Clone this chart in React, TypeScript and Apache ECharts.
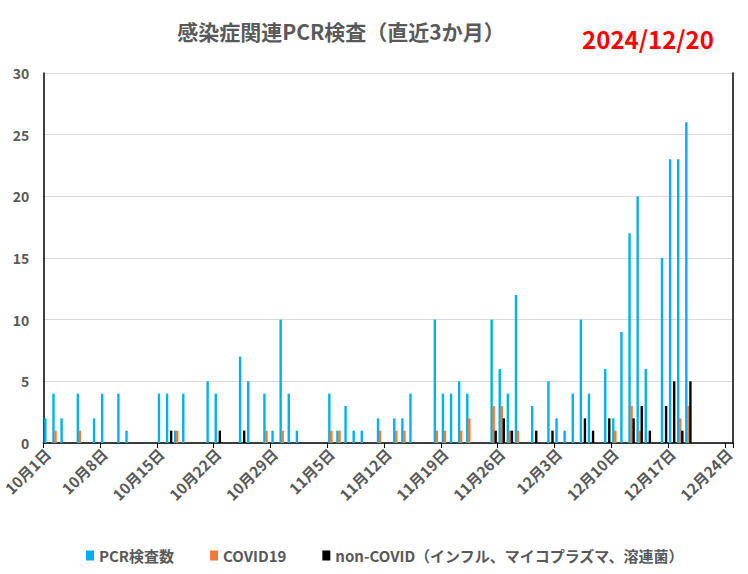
import React, { useEffect, useRef } from "react";
import * as echarts from "echarts";

const TITLE = "感染症関連PCR検査（直近3か月）";
const DATE_TEXT = "2024/12/20";
const SERIES_NAMES = ["PCR検査数", "COVID19", "non-COVID（インフル、マイコプラズマ、溶連菌）"];

// Oct 1 – Dec 24, 2024 (one category per day)
const MONTH_LENGTHS: [number, number, number][] = [
  [10, 1, 31],
  [11, 1, 30],
  [12, 1, 24],
];
const categories: string[] = [];
for (const [m, s, e] of MONTH_LENGTHS) {
  for (let d = s; d <= e; d++) categories.push(`${m}月${d}日`);
}

const pcr = [
  2, 4, 2, 0, 4, 0, 2, 4, 0, 4,
  1, 0, 0, 0, 4, 4, 1, 4, 0, 0,
  5, 4, 0, 0, 7, 5, 0, 4, 1, 10,
  4, 1, 0, 0, 0, 4, 1, 3, 1, 1,
  0, 2, 0, 2, 2, 4, 0, 0, 10, 4,
  4, 5, 4, 0, 0, 10, 6, 4, 12, 0,
  3, 0, 5, 2, 1, 4, 10, 4, 0, 6,
  2, 9, 17, 20, 6, 0, 15, 23, 23, 26,
  0, 0, 0, 0, 0,
];
const covid = [
  0, 1, 0, 0, 1, 0, 0, 0, 0, 0,
  0, 0, 0, 0, 0, 0, 1, 0, 0, 0,
  0, 0, 0, 0, 0, 0, 0, 1, 0, 1,
  0, 0, 0, 0, 0, 1, 1, 0, 0, 0,
  0, 1, 0, 1, 1, 0, 0, 0, 1, 1,
  0, 1, 2, 0, 0, 3, 3, 1, 1, 0,
  0, 0, 0, 0, 0, 0, 0, 0, 0, 0,
  1, 0, 3, 1, 0, 0, 0, 0, 2, 3,
  0, 0, 0, 0, 0,
];
const nonCovid = [
  0, 0, 0, 0, 0, 0, 0, 0, 0, 0,
  0, 0, 0, 0, 0, 1, 0, 0, 0, 0,
  0, 1, 0, 0, 1, 0, 0, 0, 0, 0,
  0, 0, 0, 0, 0, 0, 0, 0, 0, 0,
  0, 0, 0, 0, 0, 0, 0, 0, 0, 0,
  0, 0, 0, 0, 0, 1, 2, 1, 0, 0,
  1, 0, 1, 0, 0, 0, 2, 1, 0, 2,
  0, 0, 2, 3, 1, 0, 3, 5, 1, 5,
  0, 0, 0, 0, 0,
];

const COLORS = ["#00B0F0", "#ED7D31", "#000000"];
const FONT = "'Noto Sans CJK JP', 'Noto Sans', sans-serif";
const GREY = "#595959";

export default function App() {
  const ref = useRef<HTMLDivElement>(null);
  useEffect(() => {
    if (!ref.current) return;
    const chart = echarts.init(ref.current, undefined, { renderer: "svg" });
    const barCommon = {
      type: "bar" as const,
      barWidth: 2.4,
      barGap: "-15%",
    };
    chart.setOption({
      animation: false,
      backgroundColor: "#ffffff",
      textStyle: { fontFamily: FONT },
      title: [
        {
          text: TITLE,
          left: 336,
          top: 15,
          textAlign: "center",
          textStyle: { fontFamily: FONT, fontSize: 21, fontWeight: "bold", color: GREY },
        },
        {
          text: DATE_TEXT,
          left: 643,
          top: 21,
          textAlign: "center",
          textStyle: { fontFamily: FONT, fontSize: 24, fontWeight: "bold", color: "#FF0000" },
        },
      ],
      legend: {
        bottom: 6,
        left: 81,
        itemWidth: 8,
        itemHeight: 10,
        itemGap: 36,
        icon: "rect",
        textStyle: { fontFamily: FONT, fontSize: 15, fontWeight: "bold", color: GREY },
        data: SERIES_NAMES,
      },
      grid: { left: 42, right: 15, top: 73, bottom: 131, containLabel: false },
      xAxis: {
        type: "category",
        data: categories,
        boundaryGap: true,
        axisLine: { show: true, lineStyle: { color: "#000", width: 1.5 } },
        axisTick: { show: true, interval: 6, length: 5, lineStyle: { color: "#000" } },
        axisLabel: {
          interval: 6,
          rotate: 45,
          margin: 8,
          fontFamily: FONT,
          fontSize: 15,
          fontWeight: "bold",
          color: GREY,
        },
        splitLine: { show: false },
      },
      yAxis: [
        {
          type: "value",
          min: 0,
          max: 30,
          interval: 5,
          axisLine: { show: true, lineStyle: { color: "#000", width: 1.5 } },
          axisTick: { show: false },
          axisLabel: { margin: 14, fontFamily: FONT, fontSize: 14, fontWeight: "bold", color: GREY },
          splitLine: { show: true, lineStyle: { color: "#D9D9D9", width: 1 } },
        },
        {
          type: "value",
          min: 0,
          max: 30,
          interval: 5,
          position: "right",
          axisLine: { show: true, lineStyle: { color: "#000", width: 1.5 } },
          axisTick: { show: false },
          axisLabel: { show: false },
          splitLine: { show: false },
        },
      ],
      series: [
        { ...barCommon, name: SERIES_NAMES[0], data: pcr, itemStyle: { color: COLORS[0] } },
        { ...barCommon, name: SERIES_NAMES[1], data: covid, itemStyle: { color: COLORS[1] } },
        { ...barCommon, name: SERIES_NAMES[2], data: nonCovid, itemStyle: { color: COLORS[2] } },
      ],
    });
    return () => chart.dispose();
  }, []);
  return (
    <div
      ref={ref}
      style={{ position: "fixed", left: 0, top: 0, width: 748, height: 574 }}
    />
  );
}
